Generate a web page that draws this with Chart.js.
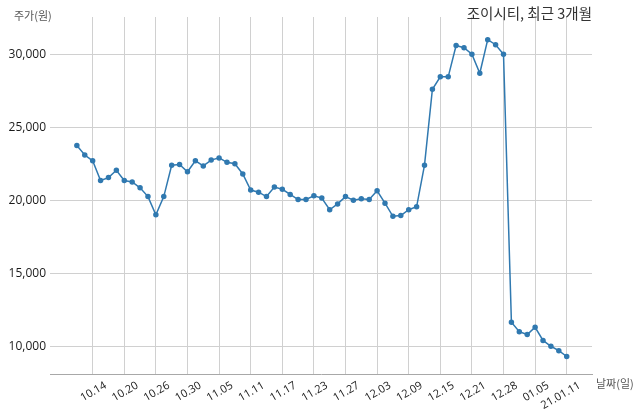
<!DOCTYPE html>
<html><head><meta charset="utf-8">
<script src="https://cdn.jsdelivr.net/npm/chart.js@4/dist/chart.umd.min.js"></script>
<style>html,body{margin:0;padding:0;background:#fff;}#wrap{width:640px;height:414px;}</style>
</head><body><div id="wrap"><canvas id="c" width="640" height="414"></canvas></div>
<script>
const dates = ["10.12","10.13","10.14","10.15","10.16","10.19","10.20","10.21","10.22","10.23",
 "10.26","10.27","10.28","10.29","10.30","11.02","11.03","11.04","11.05","11.06",
 "11.09","11.10","11.11","11.12","11.13","11.16","11.17","11.18","11.19","11.20",
 "11.23","11.24","11.25","11.26","11.27","11.30","12.01","12.02","12.03","12.04",
 "12.07","12.08","12.09","12.10","12.11","12.14","12.15","12.16","12.17","12.18",
 "12.21","12.22","12.23","12.24","12.28","12.29","12.30","01.04","01.05","01.06",
 "01.07","01.08","01.11"];
const prices = [23750,23100,22700,21350,21550,22050,21350,21250,20850,20250,
 19000,20250,22400,22450,21950,22700,22350,22750,22900,22600,
 22500,21800,20700,20550,20250,20900,20750,20400,20050,20050,
 20300,20150,19350,19750,20250,20000,20100,20050,20650,19800,
 18900,18950,19350,19550,22400,27600,28450,28450,30600,30450,
 30000,28700,31000,30650,30000,11650,11000,10800,11300,10400,
 10000,9700,9300];
const tickIndex = [2,6,10,14,18,22,26,30,34,38,42,46,50,54,58,62];
const tickLabels = ["10.14","10.20","10.26","10.30","11.05","11.11","11.17","11.23","11.27","12.03","12.09","12.15","12.21","12.28","01.05","21.01.11"];
const yTicks = [10000,15000,20000,25000,30000];
const titleText = "조이시티, 최근 3개월";
const yLabel = "주가(원)";
const xLabel = "날짜(일)";

const FONT = "'Open Sans', 'Noto Sans CJK KR', sans-serif";
const KFONT = "'Noto Sans CJK KR', sans-serif";

const textPlugin = {
  id: 'texts',
  afterDraw(chart) {
    const ctx = chart.ctx;
    const a = chart.chartArea;
    ctx.save();
    ctx.fillStyle = '#333';
    ctx.font = "14.5px " + KFONT;
    ctx.textAlign = 'right';
    ctx.textBaseline = 'middle';
    ctx.fillText(titleText, a.right, 13);
    ctx.fillStyle = '#555';
    ctx.font = "11px " + KFONT;
    ctx.textAlign = 'left';
    ctx.fillText(yLabel, 14, 16);
    ctx.fillText(xLabel, a.right + 4, 384);
    ctx.restore();
  }
};

new Chart(document.getElementById('c'), {
  type: 'line',
  data: {
    datasets: [{
      data: prices.map((v, i) => ({x: i, y: v})),
      borderColor: '#3079b0',
      backgroundColor: '#3079b0',
      borderWidth: 1.5,
      pointRadius: 2,
      pointHoverRadius: 2,
      tension: 0
    }]
  },
  options: {
    responsive: false,
    animation: false,
    events: [],
    layout: {padding: {top: 17, right: 48, left: 0, bottom: 0}},
    plugins: {legend: {display: false}, tooltip: {enabled: false}, title: {display: false}},
    scales: {
      x: {
        type: 'linear',
        min: -3.4, max: 65.2,
        afterBuildTicks: s => { s.ticks = tickIndex.map(v => ({value: v})); },
        afterFit: s => { s.height = 40; },
        grid: {color: '#d0d0d0', lineWidth: 1, drawTicks: false},
        border: {color: '#a8a8a8', width: 1},
        ticks: {
          autoSkip: false, maxRotation: 30, minRotation: 30,
          padding: 5, labelOffset: 13,
          color: '#1a1a1a', font: {size: 11, family: FONT},
          callback: (v) => { const k = tickIndex.indexOf(v); return k >= 0 ? tickLabels[k] : ''; }
        }
      },
      y: {
        min: 8100, max: 32550,
        afterBuildTicks: s => { s.ticks = yTicks.map(v => ({value: v})); },
        afterFit: s => { s.width = 50; },
        grid: {color: '#d0d0d0', lineWidth: 1, drawTicks: false},
        border: {display: false},
        ticks: {
          padding: 4, color: '#1a1a1a', font: {size: 12, family: FONT},
          callback: v => v.toLocaleString('en-US')
        }
      }
    }
  },
  plugins: [textPlugin]
});
</script></body></html>
